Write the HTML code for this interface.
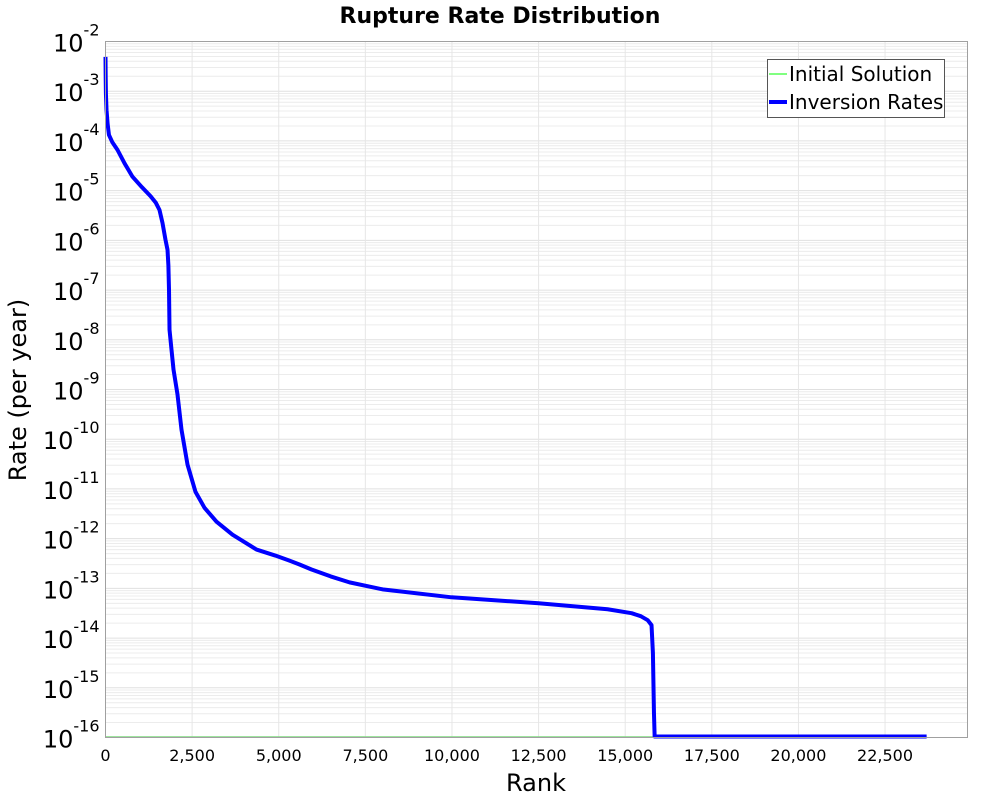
<!DOCTYPE html>
<html><head><meta charset="utf-8"><style>
body{margin:0;background:#fff;}
svg{display:block;font-family:"DejaVu Sans","Liberation Sans",sans-serif;}
</style></head><body>
<svg id="chart" width="1000" height="800" xmlns="http://www.w3.org/2000/svg">
<text x="500" y="23" text-anchor="middle" font-size="22" font-weight="bold">Rupture Rate Distribution</text>
<rect x="105.5" y="41.5" width="862" height="696" fill="#fff"/>
<g id="grid"></g>
<g id="yticks"></g>
<g id="xticks"></g>
<g id="series"></g>
<rect x="105.5" y="41.5" width="862" height="696" fill="none" stroke="#a0a0a0" stroke-width="1"/>
<text transform="translate(26,390) rotate(-90)" text-anchor="middle" font-size="24">Rate (per year)</text>
<text x="536" y="791" text-anchor="middle" font-size="24">Rank</text>
<g>
<rect x="767.5" y="59.5" width="177" height="58" fill="#fff" stroke="#555"/>
<line x1="769" y1="74" x2="787" y2="74" stroke="#00ff00" stroke-width="1"/>
<text x="789" y="81" font-size="20">Initial Solution</text>
<line x1="769" y1="102" x2="787" y2="102" stroke="#0000ff" stroke-width="4"/>
<text x="789" y="109" font-size="20">Inversion Rates</text>
</g>
</svg>
<script>
const ranks = [0,5,12,30,60,100,200,346,550,779,1050,1299,1450,1559,1645,1732,1790,1815,1833,1848,1905,1963,2078,2194,2367,2598,2858,3204,3666,4359,4900,5300,5600,5947,6500,7044,7996,9988,12500,14492,15185,15450,15650,15760,15800,15830,15850,23700];
const log10Rates = [-2.31,-2.7,-3.05,-3.38,-3.65,-3.88,-4.03,-4.18,-4.45,-4.72,-4.93,-5.11,-5.24,-5.39,-5.65,-5.99,-6.19,-6.5,-7.0,-7.8,-8.2,-8.6,-9.1,-9.81,-10.51,-11.06,-11.38,-11.66,-11.92,-12.22,-12.34,-12.44,-12.52,-12.62,-12.76,-12.88,-13.02,-13.18,-13.3,-13.42,-13.5,-13.56,-13.64,-13.74,-14.3,-15.5,-16,-16];
const initialRanks = [0,23700];
const initialLog10 = [-16,-16];
const xTicks = [0,2500,5000,7500,10000,12500,15000,17500,20000,22500];
const xTickLabels = ["0","2,500","5,000","7,500","10,000","12,500","15,000","17,500","20,000","22,500"];
const yDecades = [-2,-3,-4,-5,-6,-7,-8,-9,-10,-11,-12,-13,-14,-15,-16];

const L=105.5,R=967.5,T=41.5,B=737.5,XMAX=24880,YMIN=-16,YMAX=-2;
const NS="http://www.w3.org/2000/svg";
function xs(v){return L+(v/XMAX)*(R-L);}
function ys(lg){return B-(lg-YMIN)/(YMAX-YMIN)*(B-T);}
function mk(tag,attrs,parent){const e=document.createElementNS(NS,tag);for(const k in attrs)e.setAttribute(k,attrs[k]);parent.appendChild(e);return e;}
const grid=document.getElementById('grid'),yt=document.getElementById('yticks'),xt=document.getElementById('xticks'),ser=document.getElementById('series');
for(let d=YMIN;d<YMAX;d++){for(let m=2;m<=9;m++){const y=ys(d+Math.log10(m));
const g=mk('line',{x1:L,x2:R,y1:y,y2:y,stroke:'#ececec','stroke-width':1},grid);

}}
yDecades.forEach(d=>{const y=ys(d);
const g=mk('line',{x1:L,x2:R,y1:y,y2:y,stroke:'#e0e0e0','stroke-width':1},grid);


const t=mk('text',{x:L-6,y:y+10,'text-anchor':'end','font-size':24},yt);


t.textContent='10';
const s=mk('tspan',{'font-size':16,dy:-16},t);s.textContent=String(d);});
xTicks.forEach((v,i)=>{const x=xs(v);
const g=mk('line',{x1:x,x2:x,y1:T,y2:B,stroke:'#e6e6e6','stroke-width':1},grid);


const t=mk('text',{x:x,y:761,'text-anchor':'middle','font-size':16},xt);


t.textContent=xTickLabels[i];});
const ip=mk('polyline',{points:initialRanks.map((r,i)=>xs(r)+','+(ys(initialLog10[i])-0.5)).join(' '),fill:'none',stroke:'#7fdc7f','stroke-width':1.5},ser);


const p=mk('polyline',{points:ranks.map((r,i)=>xs(r)+','+Math.min(ys(log10Rates[i]),B-1)).join(' '),fill:'none',stroke:'#0000ff','stroke-width':4,'stroke-linejoin':'round'},ser);


</script>
</body></html>
